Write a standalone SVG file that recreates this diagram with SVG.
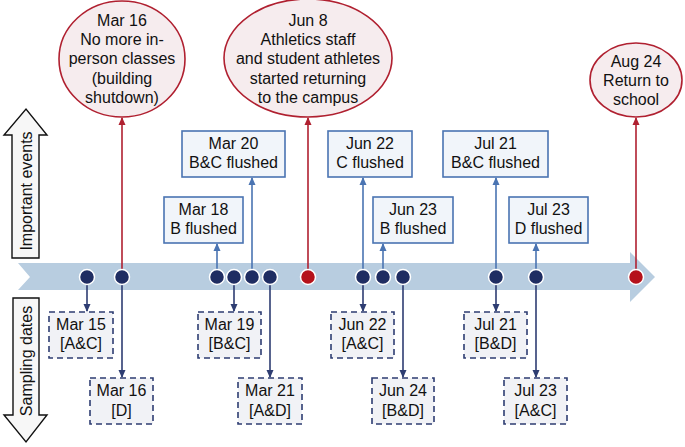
<svg xmlns="http://www.w3.org/2000/svg" width="685" height="447" viewBox="0 0 685 447">
<defs>
<style>
text{font-family:"Liberation Sans",Arial,sans-serif;font-size:16px;fill:#111;text-anchor:middle}
.et{font-size:16.6px}
.ell{fill:#f6ecee;stroke:#b02030;stroke-width:1.6}
.ev{fill:#f1f5fa;stroke:#4a74b2;stroke-width:1.6}
.sd{fill:#f1f2f6;stroke:#2e3d72;stroke-width:1.6;stroke-dasharray:6,4}
.red{stroke:#b02030;stroke-width:1.6;fill:none}
.blu{stroke:#4a74b2;stroke-width:1.6;fill:none}
.nav{stroke:#2e3d72;stroke-width:1.6;fill:none}
.dot{fill:#1f2d62;stroke:#fff;stroke-width:1.5}
.rdot{fill:#b5121b;stroke:#fff;stroke-width:1.5}
.big{fill:#f7f7f7;stroke:#111;stroke-width:1.4}
</style>
<marker id="ar" markerWidth="8" markerHeight="8" refX="7" refY="4" orient="auto" markerUnits="userSpaceOnUse"><path d="M0,0.5 L8,4 L0,7.5 Z" fill="#b02030"/></marker>
<marker id="ab" markerWidth="8" markerHeight="8" refX="7" refY="4" orient="auto" markerUnits="userSpaceOnUse"><path d="M0,0.5 L8,4 L0,7.5 Z" fill="#4a74b2"/></marker>
<marker id="an" markerWidth="8" markerHeight="8" refX="7" refY="4" orient="auto" markerUnits="userSpaceOnUse"><path d="M0,0.5 L8,4 L0,7.5 Z" fill="#2e3d72"/></marker>
</defs>
<rect width="685" height="447" fill="#fff"/>
<g id="timeline"><polygon points="18,263 630,263 630,252 655,277 630,302 630,290 18,290 30,277" fill="#b8cde0"/></g>
<g id="important-events-arrow"><polygon class="big" points="12,258 12,135 4,135 26,109 47,135 39,135 39,258"/><text transform="translate(31.5,191) rotate(-90)">Important events</text></g>
<g id="sampling-dates-arrow"><polygon class="big" points="13,298 39,298 39,415 47,415 26,442 4,415 13,415"/><text transform="translate(31.5,361) rotate(-90)">Sampling dates</text></g>
<g id="connectors">
<line class="red" x1="122" y1="277" x2="122" y2="118" marker-end="url(#ar)"/>
<line class="red" x1="308" y1="277" x2="308" y2="118" marker-end="url(#ar)"/>
<line class="red" x1="636" y1="277" x2="636" y2="118" marker-end="url(#ar)"/>
<line class="blu" x1="217" y1="277" x2="217" y2="244" marker-end="url(#ab)"/>
<line class="blu" x1="252" y1="277" x2="252" y2="178" marker-end="url(#ab)"/>
<line class="blu" x1="363" y1="277" x2="363" y2="178" marker-end="url(#ab)"/>
<line class="blu" x1="383" y1="277" x2="383" y2="244" marker-end="url(#ab)"/>
<line class="blu" x1="496" y1="277" x2="496" y2="178" marker-end="url(#ab)"/>
<line class="blu" x1="536" y1="277" x2="536" y2="244" marker-end="url(#ab)"/>
<line class="nav" x1="87" y1="277" x2="87" y2="311" marker-end="url(#an)"/>
<line class="nav" x1="122" y1="277" x2="122" y2="377" marker-end="url(#an)"/>
<line class="nav" x1="234" y1="277" x2="234" y2="311" marker-end="url(#an)"/>
<line class="nav" x1="270" y1="277" x2="270" y2="377" marker-end="url(#an)"/>
<line class="nav" x1="363" y1="277" x2="363" y2="311" marker-end="url(#an)"/>
<line class="nav" x1="403" y1="277" x2="403" y2="377" marker-end="url(#an)"/>
<line class="nav" x1="496" y1="277" x2="496" y2="311" marker-end="url(#an)"/>
<line class="nav" x1="536" y1="277" x2="536" y2="377" marker-end="url(#an)"/>
</g>
<g id="dots">
<circle class="dot" cx="87" cy="277" r="7.5"/>
<circle class="dot" cx="122" cy="277" r="7.5"/>
<circle class="dot" cx="217" cy="277" r="7.5"/>
<circle class="dot" cx="234" cy="277" r="7.5"/>
<circle class="dot" cx="252" cy="277" r="7.5"/>
<circle class="dot" cx="270" cy="277" r="7.5"/>
<circle class="rdot" cx="308" cy="277" r="7.5"/>
<circle class="dot" cx="363" cy="277" r="7.5"/>
<circle class="dot" cx="383" cy="277" r="7.5"/>
<circle class="dot" cx="403" cy="277" r="7.5"/>
<circle class="dot" cx="496" cy="277" r="7.5"/>
<circle class="dot" cx="536" cy="277" r="7.5"/>
<circle class="rdot" cx="636" cy="277" r="7.5"/>
</g>
<g id="ev-mar16" class="et"><ellipse class="ell" cx="122" cy="59" rx="63" ry="58"/><text x="122" y="26">Mar 16</text><text x="122" y="45">No more in-</text><text x="122" y="64">person classes</text><text x="122" y="84">(building</text><text x="122" y="103">shutdown)</text></g>
<g id="ev-jun8" class="et"><ellipse class="ell" cx="308" cy="58" rx="84" ry="59"/><text x="308" y="26">Jun 8</text><text x="308" y="45">Athletics staff</text><text x="308" y="64">and student athletes</text><text x="308" y="84">started returning</text><text x="308" y="103">to the campus</text></g>
<g id="ev-aug24" class="et"><ellipse class="ell" cx="636" cy="80" rx="46" ry="37"/><text x="636" y="67">Aug 24</text><text x="636" y="86">Return to</text><text x="636" y="105">school</text></g>
<g id="fl-mar18"><rect class="ev" x="164" y="197" width="79" height="46"/><text x="203.5" y="215">Mar 18</text><text x="203.5" y="234">B flushed</text></g>
<g id="fl-mar20"><rect class="ev" x="182" y="131" width="103" height="46"/><text x="233.5" y="149">Mar 20</text><text x="233.5" y="168">B&amp;C flushed</text></g>
<g id="fl-jun22"><rect class="ev" x="328" y="131" width="84" height="46"/><text x="370" y="149">Jun 22</text><text x="370" y="168">C flushed</text></g>
<g id="fl-jun23"><rect class="ev" x="373" y="197" width="80" height="46"/><text x="413" y="215">Jun 23</text><text x="413" y="234">B flushed</text></g>
<g id="fl-jul21"><rect class="ev" x="443" y="131" width="105" height="46"/><text x="495.5" y="149">Jul 21</text><text x="495.5" y="168">B&amp;C flushed</text></g>
<g id="fl-jul23"><rect class="ev" x="509" y="197" width="79" height="46"/><text x="548.5" y="215">Jul 23</text><text x="548.5" y="234">D flushed</text></g>
<g id="sd-mar15"><rect class="sd" x="49" y="312" width="64" height="46"/><text x="81" y="330">Mar 15</text><text x="81" y="349">[A&amp;C]</text></g>
<g id="sd-mar16"><rect class="sd" x="90" y="378" width="63" height="46"/><text x="121.5" y="396">Mar 16</text><text x="121.5" y="416">[D]</text></g>
<g id="sd-mar19"><rect class="sd" x="198" y="312" width="63" height="46"/><text x="229.5" y="330">Mar 19</text><text x="229.5" y="349">[B&amp;C]</text></g>
<g id="sd-mar21"><rect class="sd" x="238" y="378" width="64" height="46"/><text x="270" y="396">Mar 21</text><text x="270" y="416">[A&amp;D]</text></g>
<g id="sd-jun22"><rect class="sd" x="331" y="312" width="63" height="46"/><text x="362.5" y="330">Jun 22</text><text x="362.5" y="349">[A&amp;C]</text></g>
<g id="sd-jun24"><rect class="sd" x="372" y="378" width="62" height="46"/><text x="403" y="396">Jun 24</text><text x="403" y="416">[B&amp;D]</text></g>
<g id="sd-jul21"><rect class="sd" x="464" y="312" width="63" height="46"/><text x="495.5" y="330">Jul 21</text><text x="495.5" y="349">[B&amp;D]</text></g>
<g id="sd-jul23"><rect class="sd" x="504" y="378" width="63" height="46"/><text x="535.5" y="396">Jul 23</text><text x="535.5" y="416">[A&amp;C]</text></g>
</svg>
